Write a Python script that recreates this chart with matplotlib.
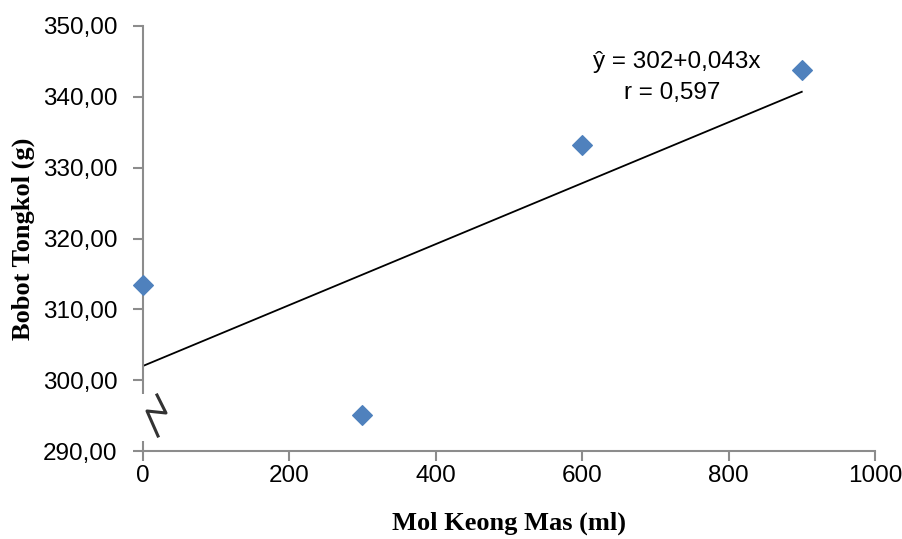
import matplotlib
matplotlib.use("Agg")
import matplotlib.pyplot as plt
from matplotlib.lines import Line2D
from matplotlib.patches import Rectangle

# --- data ------------------------------------------------------------------
dose_ml = [0, 300, 600, 900]
cob_weight_g = [313.4, 295.1, 333.2, 343.8]
intercept = 302.0
slope = 0.043
r_value = 0.597

x_ticks = [0, 200, 400, 600, 800, 1000]
y_ticks = [290, 300, 310, 320, 330, 340, 350]

GRAY = "#8c8c8c"
BLUE = "#4f81bd"
SANS = ["Liberation Sans", "DejaVu Sans"]
SERIF = ["Liberation Serif", "DejaVu Serif"]
W, H = 903, 539


def px(x, y):
    # pixel position (from top-left) -> figure fraction
    return (x / W, 1 - y / H)


fig = plt.figure(figsize=(W / 100, H / 100), dpi=100)
ax = fig.add_axes([0.158, 0.163, 0.811, 0.789])

ax.scatter(dose_ml, cob_weight_g, marker="D", s=100, color=BLUE, zorder=3,
           clip_on=False)
fx = [min(dose_ml), max(dose_ml)]
ax.plot(fx, [intercept + slope * v for v in fx], color="black", lw=1.3)

ax.set_xlim(0, 1000)
ax.set_ylim(290, 350)
ax.set_xticks(x_ticks)
ax.set_yticks(y_ticks)
ax.set_xticklabels([str(v) for v in x_ticks], family=SANS, fontsize=17.5)
ax.set_yticklabels([f"{v:.2f}".replace(".", ",") for v in y_ticks],
                   family=SANS, fontsize=17.5)
ax.tick_params(axis="both", color=GRAY, width=1.5, length=7)
ax.tick_params(axis="y", pad=11)
ax.tick_params(axis="x", pad=3)

for s in ("top", "right"):
    ax.spines[s].set_visible(False)
for s in ("left", "bottom"):
    ax.spines[s].set_color(GRAY)
    ax.spines[s].set_linewidth(1.5)

ax.set_xlabel("Mol Keong Mas (ml)", family=SERIF, fontweight="bold",
              fontsize=19, labelpad=18)
ax.set_ylabel("Bobot Tongkol (g)", family=SERIF, fontweight="bold",
              fontsize=19, labelpad=6)

fig.text(*px(677, 62), "ŷ = 302+0,043x", ha="center", va="center",
         family=SANS, fontsize=17.5)
fig.text(*px(672, 93), f"r = {r_value:.3f}".replace(".", ","),
         ha="center", va="center", family=SANS, fontsize=17.5)

# axis break mark
x0, y0 = px(107, 441)
x1, y1 = px(168, 394)
fig.add_artist(Rectangle((x0, y0), x1 - x0, y1 - y0, transform=fig.transFigure,
                         facecolor="white", edgecolor="none", zorder=5))
pts = [px(157, 395), px(166, 413), px(147, 411), px(158, 436)]
fig.add_artist(Line2D([p[0] for p in pts], [p[1] for p in pts],
                      transform=fig.transFigure, color="#333333", lw=2.2,
                      zorder=6))

fig.savefig("out.png", dpi=100)
